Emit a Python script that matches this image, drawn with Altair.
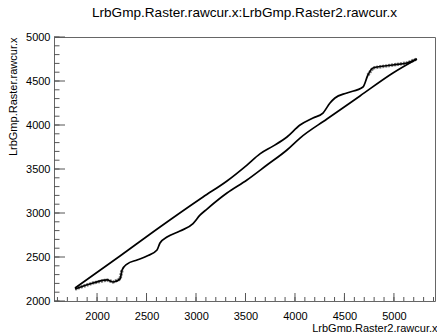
import altair as alt
import pandas as pd

# Upper branch of the loop (straight at lower-left, wavy at upper-right)
upper_x = [1778, 2232, 2636, 3071, 3313, 3515, 3646, 3778, 3919, 4051, 4182, 4283,
           4354, 4404, 4525, 4687, 4737, 4788, 4990, 5131, 5232]
upper_y = [2148, 2511, 2841, 3182, 3364, 3545, 3672, 3760, 3864, 4000, 4080, 4136,
           4250, 4307, 4364, 4432, 4568, 4648, 4682, 4705, 4750]

# Lower branch (noisy/wavy at lower-left, straight at upper-right)
lower_x = [1778, 1960, 2101, 2162, 2232, 2253, 2303, 2404, 2505, 2606, 2636, 2707, 2838,
           2970, 3040, 3111, 3313, 3515, 3717, 3919, 4051, 4323, 4657, 4990, 5232]
lower_y = [2136, 2205, 2239, 2216, 2250, 2352, 2420, 2466, 2511, 2580, 2659, 2727, 2795,
           2880, 2975, 3045, 3227, 3375, 3545, 3716, 3852, 4068, 4330, 4591, 4750]

# Noisy (spray) sections
noisy_upper_x = [4737, 4788, 4990, 5131, 5232]
noisy_upper_y = [4568, 4648, 4682, 4705, 4750]
noisy_lower_x = [1778, 1960, 2101, 2162, 2232, 2253]
noisy_lower_y = [2136, 2205, 2239, 2216, 2250, 2352]

x_major = [2000, 2500, 3000, 3500, 4000, 4500, 5000]
y_major = [2000, 2500, 3000, 3500, 4000, 4500, 5000]
x_minor = list(range(1600, 5401, 100))
y_minor = list(range(2000, 5001, 100))

XDOM = [1565, 5415]
YDOM = [2000, 5000]
W, H = 381, 264
FONT = "Liberation Sans"

rows = []
for i, (a, b) in enumerate(zip(upper_x, upper_y)):
    rows.append({"x": a, "y": b, "curve": "upper", "o": i})
for i, (a, b) in enumerate(zip(lower_x, lower_y)):
    rows.append({"x": a, "y": b, "curve": "lower", "o": i})
df = pd.DataFrame(rows)

nrows = []
for i, (a, b) in enumerate(zip(noisy_upper_x, noisy_upper_y)):
    nrows.append({"x": a, "y": b, "curve": "upper", "o": i})
for i, (a, b) in enumerate(zip(noisy_lower_x, noisy_lower_y)):
    nrows.append({"x": a, "y": b, "curve": "lower", "o": i})
dfn = pd.DataFrame(nrows)

xs = alt.Scale(domain=XDOM, nice=False, zero=False)
ys = alt.Scale(domain=YDOM, nice=False, zero=False)

xaxis = alt.Axis(values=x_major, format="d", ticks=False, tickSize=0, domain=False, grid=False,
                 labelFont=FONT, labelFontSize=11, labelColor="#000", labelPadding=9,
                 title="LrbGmp.Raster2.rawcur.x", titleFont=FONT, titleFontSize=11,
                 titleFontWeight="normal", titleColor="#000", titleX=383, titleY=30,
                 titleAlign="right", titleBaseline="alphabetic")
yaxis = alt.Axis(values=y_major, format="d", ticks=False, tickSize=0, domain=False, grid=False,
                 labelFont=FONT, labelFontSize=11, labelColor="#000", labelPadding=4,
                 title="LrbGmp.Raster.rawcur.x", titleFont=FONT, titleFontSize=11,
                 titleFontWeight="normal", titleColor="#000", titleX=-38, titleY=0,
                 titleAlign="right", titleBaseline="alphabetic", titleAngle=270)

lines = alt.Chart(df).mark_line(color="black", strokeWidth=1.7, interpolate="monotone").encode(
    x=alt.X("x:Q", scale=xs, axis=xaxis),
    y=alt.Y("y:Q", scale=ys, axis=yaxis),
    detail="curve:N",
    order="o:Q",
)

noisy = alt.Chart(dfn).mark_line(color="black", strokeWidth=3.4, opacity=0.5,
                                 strokeDash=[2, 1]).encode(
    x=alt.X("x:Q", scale=xs),
    y=alt.Y("y:Q", scale=ys),
    detail="curve:N",
    order="o:Q",
)

tick_color = "#555"
xmaj_df = pd.DataFrame({"v": x_major})
xmin_df = pd.DataFrame({"v": [v for v in x_minor if XDOM[0] <= v <= XDOM[1]]})
ymaj_df = pd.DataFrame({"v": y_major})
ymin_df = pd.DataFrame({"v": y_minor})

xmaj = alt.Chart(xmaj_df).mark_rule(color=tick_color, strokeWidth=1).encode(
    x=alt.X("v:Q", scale=xs), y=alt.value(H), y2=alt.value(H - 8))
xmin = alt.Chart(xmin_df).mark_rule(color=tick_color, strokeWidth=1).encode(
    x=alt.X("v:Q", scale=xs), y=alt.value(H), y2=alt.value(H - 4))
ymaj = alt.Chart(ymaj_df).mark_rule(color=tick_color, strokeWidth=1).encode(
    y=alt.Y("v:Q", scale=ys), x=alt.value(0), x2=alt.value(11))
ymin = alt.Chart(ymin_df).mark_rule(color=tick_color, strokeWidth=1).encode(
    y=alt.Y("v:Q", scale=ys), x=alt.value(0), x2=alt.value(5.5))

chart = alt.layer(xmin, xmaj, ymin, ymaj, noisy, lines).properties(
    width=W, height=H,
    title=alt.TitleParams("LrbGmp.Raster.rawcur.x:LrbGmp.Raster2.rawcur.x",
                          font=FONT, fontSize=13.6, fontWeight="normal", color="#000",
                          anchor="middle", offset=11),
    padding={"left": 54, "top": 37, "right": 2, "bottom": 31},
    autosize=alt.AutoSizeParams(type="none"),
    background="white",
).configure_view(stroke="#666", strokeWidth=1).configure_axis(labelFlush=False)

chart.save("out.html", embed_options={"renderer": "svg", "actions": False})
